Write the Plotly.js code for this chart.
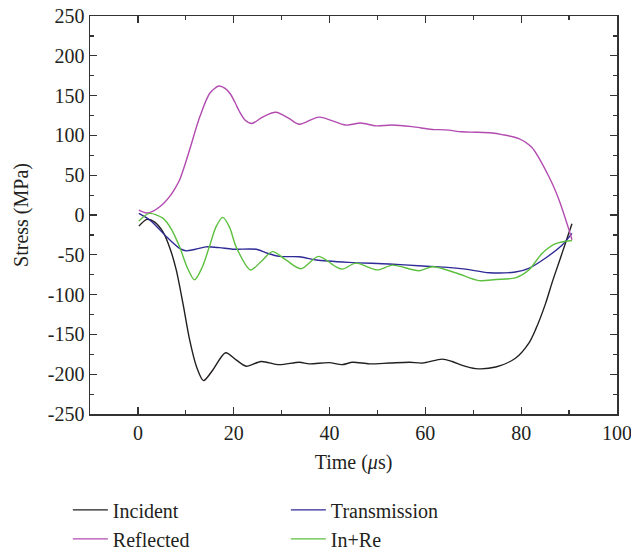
<!DOCTYPE html>
<html>
<head>
<meta charset="utf-8">
<script src="https://cdn.plot.ly/plotly-3.0.1.min.js"></script>
<style>html,body{margin:0;padding:0;background:#fff;}#chart{width:631px;height:552px;}</style>
</head>
<body>
<div id="chart"></div>
<script>
// Time (µs) and stress (MPa) readings per series
const incidentX = [0.2, 1.9, 3.5, 5.2, 6.7, 8.0, 9.4, 10.8, 12.2, 13.7, 15.6, 18.3, 20.5, 22.6, 25.7, 29.5, 33.7, 35.8, 39.9, 42.6, 44.8, 48.3, 52.5, 56.7, 59.4, 63.5, 65.6, 67.7, 70.5, 74.7, 78.8, 81.6, 83.0, 85.1, 86.5, 88.2, 89.2, 90.6];
const incidentY = [-14, -5.5, -9, -21, -42, -69, -111, -157, -190, -208, -195, -173, -182, -190, -184, -188, -185, -187, -185.5, -188, -185, -187, -186, -185, -186, -181, -184, -189, -193, -191, -180, -161, -144, -111, -84, -54, -36, -11];

const transX = [0.2, 2.4, 4.0, 5.9, 8.7, 10.0, 12.0, 14.2, 17.0, 19.8, 24.7, 27.0, 29.5, 33.7, 37.2, 44.1, 52.4, 59.4, 64.0, 68.4, 73.3, 78.8, 81.6, 85.1, 88.5, 90.6];
const transY = [2, -6, -15, -27, -42, -45, -43, -40, -41, -43, -43, -48, -52, -52.5, -56.5, -59.5, -61.5, -64, -65.5, -68, -72.5, -71.6, -67, -54, -38, -23];

const reflX = [0.2, 1.8, 3.2, 4.5, 5.6, 6.6, 7.6, 8.7, 9.7, 10.8, 12.9, 15.0, 16.9, 18.2, 19.3, 20.3, 21.2, 22.4, 23.8, 26.0, 28.8, 31.6, 33.7, 37.8, 43.4, 46.5, 49.7, 53.0, 57.2, 61.4, 64.2, 67.7, 70.5, 73.9, 76.0, 79.5, 82.2, 85.8, 87.9, 90.0, 90.6];
const reflY = [6, 2.5, 5, 10, 16, 23, 32, 44, 61, 82, 123, 153, 162, 159, 152, 141, 130, 119, 115, 123, 129, 121, 114, 123, 113, 115.5, 112, 113, 111, 107.5, 107, 104.5, 104, 103, 101, 96, 85, 48, 19, -19, -31];

const inreX = [0.2, 2.4, 5.2, 7.0, 8.7, 10.3, 11.8, 13.4, 14.9, 16.3, 17.7, 19.1, 20.5, 23.5, 25.8, 28.1, 30.9, 34.0, 37.7, 41.3, 42.7, 45.5, 50.0, 53.1, 58.7, 61.5, 66.3, 71.2, 74.7, 78.8, 81.6, 84.4, 87.2, 90.6];
const inreY = [-7.5, 2, -4, -18, -40, -66, -81.5, -66, -40, -15, -3, -15, -40, -69, -58, -46, -56.5, -67.5, -52, -65, -68, -60.5, -69, -63, -70, -65, -72.5, -82.5, -81, -79, -69, -48, -36, -32];

const seriesNames = ["Incident", "Transmission", "Reflected", "In+Re"];
const seriesColors = ["#231f20", "#2e2a96", "#b24bb0", "#5cbf3f"];

const yTickVals = [-250, -200, -150, -100, -50, 0, 50, 100, 150, 200, 250];
const yTickText = ["-250", "-200", "-150", "-100", "-50", "0", "50", "100", "150", "200", "250"];
const xTickVals = [0, 20, 40, 60, 80, 100];
const xTickText = ["0", "20", "40", "60", "80", "100"];

const xs = [incidentX, transX, reflX, inreX];
const ys = [incidentY, transY, reflY, inreY];

const traces = seriesNames.map((n, i) => ({
  x: xs[i], y: ys[i], name: n, type: 'scatter', mode: 'lines',
  line: {color: seriesColors[i], width: 1.4, shape: 'spline', smoothing: 0.8}
}));

const fontFam = '"Liberation Serif", "DejaVu Serif", serif';
const txtColor = '#231f20';
const axisCommon = {
  showgrid: false, zeroline: false, showline: true, linecolor: '#333', linewidth: 1.5,
  mirror: 'ticks', ticks: 'inside', ticklen: 7, tickwidth: 1.3, tickcolor: '#333',
  tickfont: {family: fontFam, size: 20, color: txtColor}, automargin: false,
  ticklabeloverflow: 'allow'
};

const layout = {
  width: 631, height: 552,
  margin: {l: 90, r: 14, t: 16, b: 138, autoexpand: false},
  paper_bgcolor: '#fff', plot_bgcolor: '#fff',
  font: {family: fontFam, size: 20, color: txtColor},
  xaxis: Object.assign({}, axisCommon, {
    range: [-10, 100], tickmode: 'array', tickvals: xTickVals, ticktext: xTickText,
    minor: {dtick: 10, tick0: 0, ticks: 'inside', ticklen: 4, tickcolor: '#333', tickwidth: 1.2, showgrid: false},
    title: {text: 'Time (<i>μ</i>s)', font: {family: fontFam, size: 20, color: txtColor}, standoff: 12}
  }),
  yaxis: Object.assign({}, axisCommon, {
    range: [-250, 250], tickmode: 'array', tickvals: yTickVals, ticktext: yTickText,
    minor: {dtick: 25, tick0: 0, ticks: 'inside', ticklen: 4, tickcolor: '#333', tickwidth: 1.2, showgrid: false},
    title: {text: 'Stress (MPa)', font: {family: fontFam, size: 20, color: txtColor}, standoff: 14}
  }),
  showlegend: true,
  legend: {
    orientation: 'h', x: -0.042, xanchor: 'left', y: -0.192, yanchor: 'top',
    entrywidth: 168, entrywidthmode: 'pixels', traceorder: 'normal',
    font: {family: fontFam, size: 20, color: txtColor},
    bgcolor: 'rgba(0,0,0,0)', tracegroupgap: 0, itemwidth: 35
  }
};

Plotly.newPlot('chart', traces, layout, {displayModeBar: false, staticPlot: true});
</script>
</body>
</html>
